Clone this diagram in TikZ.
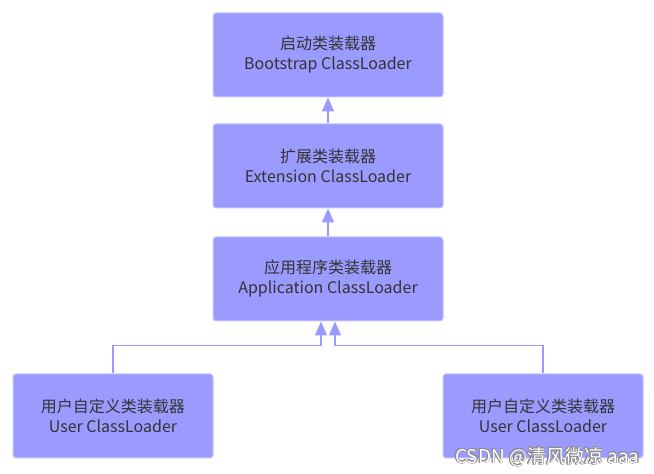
\documentclass[tikz,border=0pt]{standalone}
\usepackage{fontspec}
\setmainfont{Noto Sans CJK SC}
\usepackage{tikz}
\usepackage{contour}
\contourlength{0.5pt}
\usetikzlibrary{positioning,arrows.meta}

\definecolor{boxfill}{HTML}{9B9BFF}
\definecolor{boxline}{HTML}{C4C4FF}
\definecolor{boxtext}{HTML}{333333}

\begin{document}
\begin{tikzpicture}[
    x=1pt, y=1pt,
    loaderbox/.style={rectangle, rounded corners=3pt, draw=boxline, fill=boxfill, line width=1pt,
        minimum width=230pt, minimum height=84pt, align=center, text=boxtext,
        font=\fontsize{16}{20}\selectfont},
    userbox/.style={loaderbox, minimum width=200pt},
    link/.style={draw=boxfill, line width=1.6pt, -{Triangle[width=12pt,length=14pt]}}
    ]
        \useasboundingbox (0,0) rectangle (654,474);

        %Nodes
        \node[loaderbox]
            (boot)  at (328,419)    {启动类装载器\\Bootstrap ClassLoader};
        \node[loaderbox]
            (ext)   [below=26pt of boot]    {扩展类装载器\\Extension ClassLoader};
        \node[loaderbox]
            (app)   [below=28pt of ext]     {应用程序类装载器\\Application ClassLoader};
        \node[userbox]
            (userL) at (113,58)     {用户自定义类装载器\\User ClassLoader};
        \node[userbox]
            (userR) at (543,58)     {用户自定义类装载器\\User ClassLoader};

        %Lines
        \draw[link] (ext.north) -- (boot.south);
        \draw[link] (app.north) -- (ext.south);
        \draw[link] (userL.north) -- ++(0,28) -| ([xshift=-7pt]app.south);
        \draw[link] (userR.north) -- ++(0,28) -| ([xshift=7pt]app.south);

        %Watermark
        \node[text=white, font=\fontsize{19}{21}\selectfont, anchor=east]
            (mark) at (643,17) {\contour{black!45}{CSDN @清风微凉 aaa}};
    \end{tikzpicture}
\end{document}
